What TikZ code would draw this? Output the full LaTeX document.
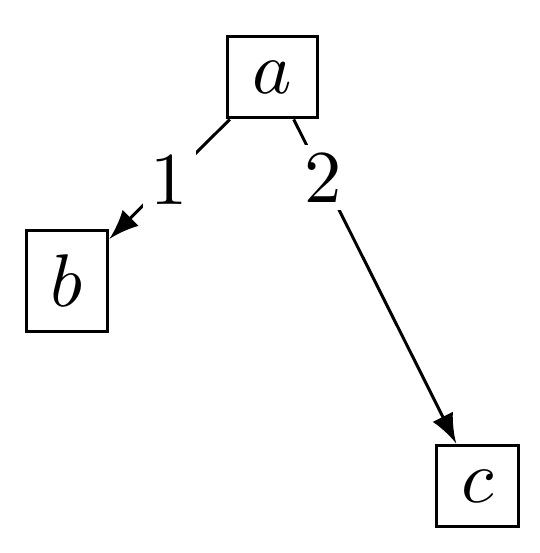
\documentclass[tikz,border=0pt]{standalone}
\usetikzlibrary{arrows}
\begin{document}
\begin{tikzpicture}[x=0.134pt,y=-0.134pt,
  vbox/.style={draw,line width=0.4pt},
  edge/.style={-latex,line width=0.4pt},
  elabel/.style={fill=white,inner sep=1pt}]
\useasboundingbox (0,0) rectangle (540,553);
\node[vbox] (a) at (272.5,77) {$a$};
\node[vbox] (b) at (67,281) {$b$};
\node[vbox] (c) at (477.5,486) {$c$};
\draw[edge] (a) -- node[elabel,pos=0.5] (l1) {1} (b);
\draw[edge] (a) -- node[elabel,pos=0.18] (l2) {2} (c);
\end{tikzpicture}
\end{document}
